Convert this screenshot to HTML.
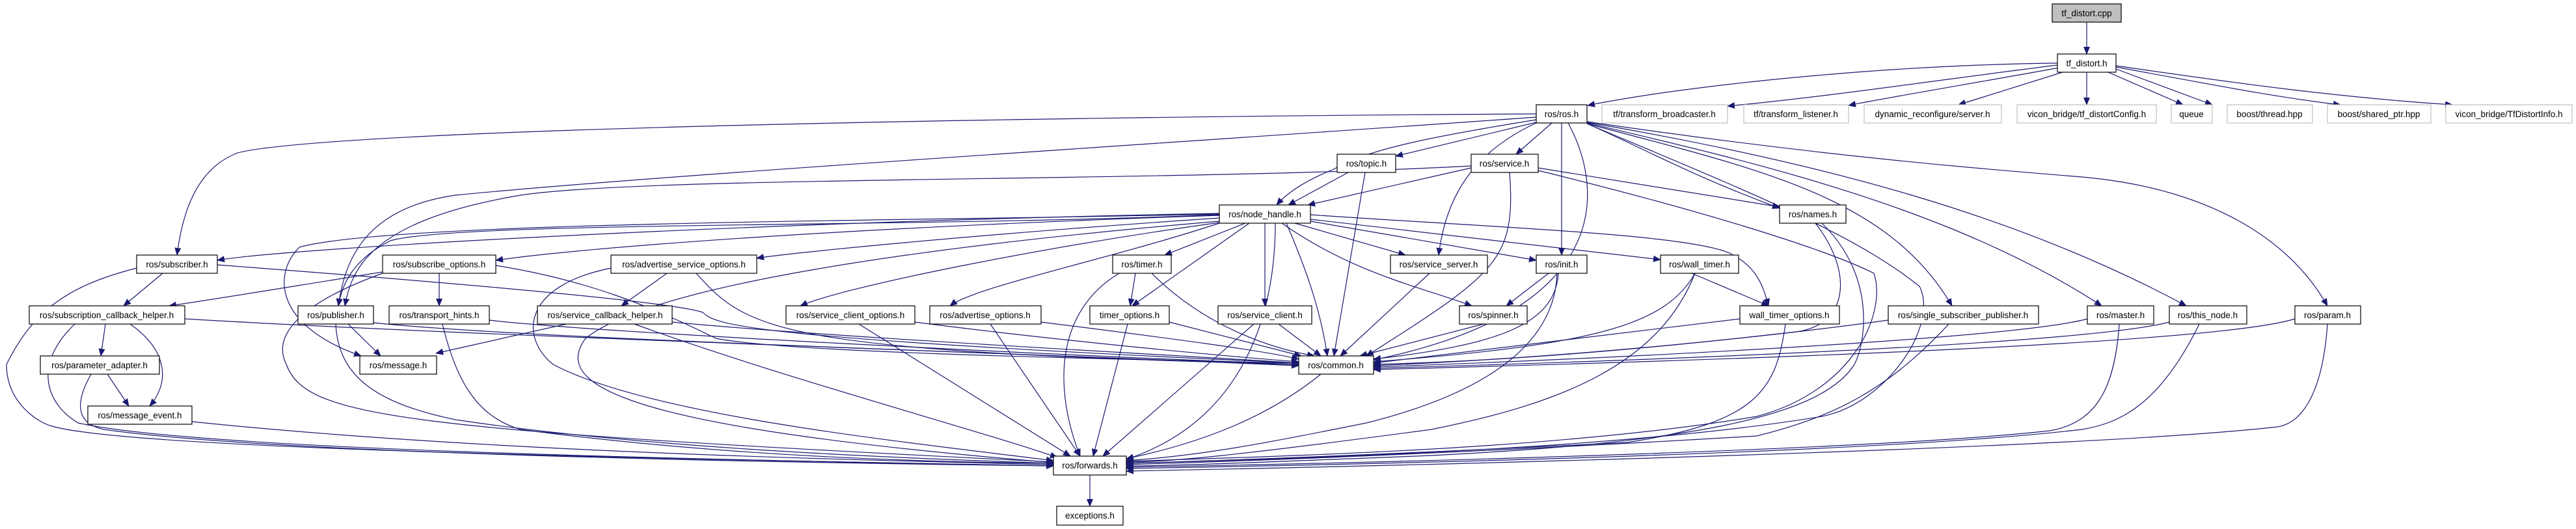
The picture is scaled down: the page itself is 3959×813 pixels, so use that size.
<!DOCTYPE html>
<html><head><meta charset="utf-8"><style>
html,body{margin:0;padding:0;background:#fff;}
svg{display:block;}
text{font-family:"Liberation Sans",sans-serif;font-size:13.5px;fill:#000;}
.e{fill:none;stroke:#191970;stroke-width:1.2;marker-end:url(#a);}
.n{fill:#fff;stroke:#000;stroke-width:1.2;}
.g{fill:#fff;stroke:#bfbfbf;stroke-width:1.2;}
</style></head><body>
<svg width="3959" height="813" viewBox="0 0 3959 813" xmlns="http://www.w3.org/2000/svg">
<defs><marker id="a" markerWidth="12" markerHeight="10" refX="11" refY="5" orient="auto" markerUnits="userSpaceOnUse"><polygon points="0,0 12,5 0,10" fill="#191970"/></marker></defs>
<g>
<path class="e" d="M3207,34 L3207,83"/>
<path class="e" d="M3162,97 C2900,100 2600,130 2440,162"/>
<path class="e" d="M3162,100 C3000,120 2800,150 2655,163"/>
<path class="e" d="M3165,104 C3050,125 2900,150 2841,162"/>
<path class="e" d="M3170,111 L3010,161"/>
<path class="e" d="M3207,111 L3207,161"/>
<path class="e" d="M3240,111 L3355,161"/>
<path class="e" d="M3252,106 L3400,161"/>
<path class="e" d="M3252,103 C3400,130 3500,150 3597,161"/>
<path class="e" d="M3252,101 C3450,130 3600,150 3769,161"/>
<path class="e" d="M2361,175 C1500,180 500,200 365,235 C300,260 280,330 272,392"/>
<path class="e" d="M2361,180 C1800,220 1000,270 700,300 C560,320 530,400 520,470"/>
<path class="e" d="M2361,184 C2200,210 2100,230 2050,260 C2000,280 1975,300 1962,315"/>
<path class="e" d="M2361,188 L2145,240"/>
<path class="e" d="M2385,189 L2330,237"/>
<path class="e" d="M2361,189 C2250,240 2220,320 2211,392"/>
<path class="e" d="M2400,189 L2400,392"/>
<path class="e" d="M2439,190 C2530,230 2600,270 2735,320"/>
<path class="e" d="M2439,190 C2700,260 2900,300 3000,470"/>
<path class="e" d="M2439,189 C2700,250 3000,320 3230,470"/>
<path class="e" d="M2439,188 C2800,250 3100,330 3360,470"/>
<path class="e" d="M2439,187 C2800,240 3050,260 3200,272 C3400,290 3520,370 3577,470"/>
<path class="e" d="M2410,189 C2470,300 2470,480 2111,553"/>
<path class="e" d="M2439,190 C2700,300 2850,360 2950,440 C2980,500 2900,620 2800,640 C2500,690 2000,705 1731,712"/>
<path class="e" d="M2072,265 L1980,315"/>
<path class="e" d="M2098,265 L2050,547"/>
<path class="e" d="M2261,258 L2010,315"/>
<path class="e" d="M2261,255 C1800,280 1000,270 800,300 C560,340 540,420 530,470"/>
<path class="e" d="M2364,258 L2735,318"/>
<path class="e" d="M2320,265 C2330,400 2300,420 2100,547"/>
<path class="e" d="M2364,262 C2600,320 2800,380 2880,420 C2900,480 2850,600 2700,640 C2400,690 2000,700 1731,709"/>
<path class="e" d="M1874,328 C1200,340 450,380 334,400"/>
<path class="e" d="M1874,331 C1300,350 900,380 762,400"/>
<path class="e" d="M1874,335 C1500,360 1200,390 1163,397"/>
<path class="e" d="M1874,330 C1400,350 700,340 600,370 C540,400 525,440 520,470"/>
<path class="e" d="M1874,329 C1400,340 600,340 460,380 C420,420 420,500 555,547"/>
<path class="e" d="M1874,342 C1600,380 1300,440 1230,470"/>
<path class="e" d="M1874,343 C1700,400 1500,440 1460,470"/>
<path class="e" d="M1914,343 L1790,392"/>
<path class="e" d="M1920,343 L1740,470"/>
<path class="e" d="M1944,343 L1944,470"/>
<path class="e" d="M1977,343 C2010,420 2030,480 2040,547"/>
<path class="e" d="M1990,343 L2160,392"/>
<path class="e" d="M1970,343 C2080,420 2180,440 2262,470"/>
<path class="e" d="M2014,340 L2361,400"/>
<path class="e" d="M2014,337 L2552,399"/>
<path class="e" d="M2014,330 C2300,350 2600,360 2660,390 C2700,410 2710,440 2718,470"/>
<path class="e" d="M1874,340 C1400,380 1000,440 900,520 C840,600 1000,660 1619,711"/>
<path class="e" d="M250,420 L190,470"/>
<path class="e" d="M588,418 C450,440 330,460 260,470"/>
<path class="e" d="M675,420 L675,470"/>
<path class="e" d="M1025,420 L955,470"/>
<path class="e" d="M162,498 L155,547"/>
<path class="e" d="M200,498 C260,540 260,590 230,624"/>
<path class="e" d="M165,575 L198,624"/>
<path class="e" d="M535,498 L585,547"/>
<path class="e" d="M870,498 L670,543"/>
<path class="e" d="M1745,420 L1737,470"/>
<path class="e" d="M2380,420 L2315,470"/>
<path class="e" d="M2600,420 L2718,470"/>
<path class="e" d="M1675,730 L1675,778"/>
<path class="e" d="M334,407 C900,450 1050,470 1080,480 C1100,500 1150,520 1996,558"/>
<path class="e" d="M762,408 C900,430 1000,470 1100,520 C1200,540 1600,550 1996,558"/>
<path class="e" d="M1070,420 C1150,510 1200,540 1996,560"/>
<path class="e" d="M284,490 C700,515 1500,540 1996,562"/>
<path class="e" d="M574,496 C800,520 1500,540 1996,562"/>
<path class="e" d="M752,492 C900,510 1600,545 1996,560"/>
<path class="e" d="M1033,495 C1300,520 1800,545 1996,558"/>
<path class="e" d="M1406,495 C1600,520 1850,545 1996,556"/>
<path class="e" d="M1600,495 C1800,520 1950,540 1996,552"/>
<path class="e" d="M1797,495 L2000,547"/>
<path class="e" d="M1770,420 C1850,500 1950,535 2020,547"/>
<path class="e" d="M1965,498 L2030,547"/>
<path class="e" d="M2197,420 L2060,547"/>
<path class="e" d="M2280,498 L2090,547"/>
<path class="e" d="M2395,420 C2390,500 2300,530 2111,552"/>
<path class="e" d="M2605,420 C2560,500 2450,530 2111,556"/>
<path class="e" d="M2674,490 L2111,558"/>
<path class="e" d="M2790,343 C2850,420 2840,500 2760,510 C2500,540 2300,555 2111,560"/>
<path class="e" d="M2902,492 C2700,520 2400,550 2111,562"/>
<path class="e" d="M3208,490 C3100,520 2500,550 2111,564"/>
<path class="e" d="M3334,495 C3200,530 2500,555 2111,566"/>
<path class="e" d="M3527,490 C3400,530 2600,555 2111,568"/>
<path class="e" d="M210,412 C100,440 50,480 10,560 C10,620 60,650 80,655 C200,690 1000,705 1619,716"/>
<path class="e" d="M115,498 C50,560 70,620 120,650 C300,690 1000,705 1619,716"/>
<path class="e" d="M140,575 C120,610 110,650 160,660 C400,695 1100,710 1619,716"/>
<path class="e" d="M295,648 C700,690 1200,705 1619,714"/>
<path class="e" d="M516,498 C520,580 580,620 700,645 C1000,690 1400,705 1619,712"/>
<path class="e" d="M680,498 C700,580 730,640 800,660 C1100,700 1400,710 1619,712"/>
<path class="e" d="M588,420 C450,470 420,520 440,560 C470,640 600,660 1619,710"/>
<path class="e" d="M939,412 C800,440 800,520 850,560 C1000,640 1400,680 1619,708"/>
<path class="e" d="M975,498 C1200,580 1500,660 1625,703"/>
<path class="e" d="M1320,498 L1645,701"/>
<path class="e" d="M1522,498 L1660,701"/>
<path class="e" d="M1733,498 L1680,701"/>
<path class="e" d="M1720,420 C1620,480 1620,600 1660,701"/>
<path class="e" d="M1927,498 L1695,701"/>
<path class="e" d="M2030,575 C1950,640 1850,680 1731,705"/>
<path class="e" d="M2393,420 C2390,520 2300,600 2100,650 C1950,680 1850,700 1731,708"/>
<path class="e" d="M2744,498 C2730,600 2700,650 2500,680 C2000,705 1800,710 1731,712"/>
<path class="e" d="M2605,420 C2550,560 2400,620 2200,660 C1900,700 1800,710 1731,710"/>
<path class="e" d="M2995,498 C2900,600 2820,640 2700,670 C2200,700 1800,712 1731,714"/>
<path class="e" d="M2800,343 C2880,420 2870,520 2850,560 C2800,640 2600,680 2200,700 C1900,712 1800,716 1731,716"/>
<path class="e" d="M3257,498 C3250,600 3220,650 3150,662 C2900,690 2200,710 1731,718"/>
<path class="e" d="M3380,498 C3320,620 3260,650 3200,660 C2900,695 2200,712 1731,720"/>
<path class="e" d="M3577,498 C3570,600 3540,650 3500,656 C3200,690 2200,715 1731,724"/>
<path class="e" d="M1960,343 C1960,500 1900,650 1731,706"/>
</g>
<g>
<rect x="3154" y="6" width="106" height="28" fill="#bfbfbf" stroke="#000" stroke-width="1.2"/>
<text x="3207" y="25" text-anchor="middle">tf_distort.cpp</text>
<rect class="n" x="3162" y="83" width="90" height="28"/><text x="3207" y="102" text-anchor="middle">tf_distort.h</text>
<rect class="n" x="2361" y="161" width="78" height="28"/><text x="2400" y="180" text-anchor="middle">ros/ros.h</text>
<rect class="g" x="2462" y="161" width="193" height="28"/><text x="2558" y="180" text-anchor="middle">tf/transform_broadcaster.h</text>
<rect class="g" x="2680" y="161" width="161" height="28"/><text x="2760" y="180" text-anchor="middle">tf/transform_listener.h</text>
<rect class="g" x="2865" y="161" width="211" height="28"/><text x="2970" y="180" text-anchor="middle">dynamic_reconfigure/server.h</text>
<rect class="g" x="3100" y="161" width="214" height="28"/><text x="3207" y="180" text-anchor="middle">vicon_bridge/tf_distortConfig.h</text>
<rect class="g" x="3337" y="161" width="63" height="28"/><text x="3368" y="180" text-anchor="middle">queue</text>
<rect class="g" x="3423" y="161" width="131" height="28"/><text x="3488" y="180" text-anchor="middle">boost/thread.hpp</text>
<rect class="g" x="3577" y="161" width="159" height="28"/><text x="3656" y="180" text-anchor="middle">boost/shared_ptr.hpp</text>
<rect class="g" x="3759" y="161" width="194" height="28"/><text x="3856" y="180" text-anchor="middle">vicon_bridge/TfDistortInfo.h</text>
<rect class="n" x="2055" y="237" width="90" height="28"/><text x="2100" y="256" text-anchor="middle">ros/topic.h</text>
<rect class="n" x="2261" y="237" width="103" height="28"/><text x="2312" y="256" text-anchor="middle">ros/service.h</text>
<rect class="n" x="1874" y="315" width="140" height="28"/><text x="1944" y="334" text-anchor="middle">ros/node_handle.h</text>
<rect class="n" x="2735" y="315" width="102" height="28"/><text x="2786" y="334" text-anchor="middle">ros/names.h</text>
<rect class="n" x="210" y="392" width="124" height="28"/><text x="272" y="411" text-anchor="middle">ros/subscriber.h</text>
<rect class="n" x="588" y="392" width="174" height="28"/><text x="675" y="411" text-anchor="middle">ros/subscribe_options.h</text>
<rect class="n" x="939" y="392" width="224" height="28"/><text x="1051" y="411" text-anchor="middle">ros/advertise_service_options.h</text>
<rect class="n" x="1710" y="392" width="90" height="28"/><text x="1755" y="411" text-anchor="middle">ros/timer.h</text>
<rect class="n" x="2137" y="392" width="149" height="28"/><text x="2211" y="411" text-anchor="middle">ros/service_server.h</text>
<rect class="n" x="2361" y="392" width="78" height="28"/><text x="2400" y="411" text-anchor="middle">ros/init.h</text>
<rect class="n" x="2552" y="392" width="120" height="28"/><text x="2612" y="411" text-anchor="middle">ros/wall_timer.h</text>
<rect class="n" x="45" y="470" width="239" height="28"/><text x="164" y="489" text-anchor="middle">ros/subscription_callback_helper.h</text>
<rect class="n" x="458" y="470" width="116" height="28"/><text x="516" y="489" text-anchor="middle">ros/publisher.h</text>
<rect class="n" x="598" y="470" width="154" height="28"/><text x="675" y="489" text-anchor="middle">ros/transport_hints.h</text>
<rect class="n" x="826" y="470" width="207" height="28"/><text x="930" y="489" text-anchor="middle">ros/service_callback_helper.h</text>
<rect class="n" x="1208" y="470" width="198" height="28"/><text x="1307" y="489" text-anchor="middle">ros/service_client_options.h</text>
<rect class="n" x="1429" y="470" width="171" height="28"/><text x="1514" y="489" text-anchor="middle">ros/advertise_options.h</text>
<rect class="n" x="1675" y="470" width="122" height="28"/><text x="1736" y="489" text-anchor="middle">timer_options.h</text>
<rect class="n" x="1872" y="470" width="144" height="28"/><text x="1944" y="489" text-anchor="middle">ros/service_client.h</text>
<rect class="n" x="2243" y="470" width="104" height="28"/><text x="2295" y="489" text-anchor="middle">ros/spinner.h</text>
<rect class="n" x="2674" y="470" width="153" height="28"/><text x="2750" y="489" text-anchor="middle">wall_timer_options.h</text>
<rect class="n" x="2902" y="470" width="231" height="28"/><text x="3017" y="489" text-anchor="middle">ros/single_subscriber_publisher.h</text>
<rect class="n" x="3208" y="470" width="102" height="28"/><text x="3259" y="489" text-anchor="middle">ros/master.h</text>
<rect class="n" x="3334" y="470" width="119" height="28"/><text x="3393" y="489" text-anchor="middle">ros/this_node.h</text>
<rect class="n" x="3527" y="470" width="101" height="28"/><text x="3577" y="489" text-anchor="middle">ros/param.h</text>
<rect class="n" x="62" y="547" width="183" height="28"/><text x="153" y="566" text-anchor="middle">ros/parameter_adapter.h</text>
<rect class="n" x="553" y="547" width="118" height="28"/><text x="612" y="566" text-anchor="middle">ros/message.h</text>
<rect class="n" x="1996" y="547" width="115" height="28"/><text x="2053" y="566" text-anchor="middle">ros/common.h</text>
<rect class="n" x="135" y="624" width="160" height="28"/><text x="215" y="643" text-anchor="middle">ros/message_event.h</text>
<rect class="n" x="1619" y="701" width="112" height="29"/><text x="1675" y="720" text-anchor="middle">ros/forwards.h</text>
<rect class="n" x="1624" y="778" width="102" height="29"/><text x="1675" y="797" text-anchor="middle">exceptions.h</text>
</g>
</svg>
</body></html>
